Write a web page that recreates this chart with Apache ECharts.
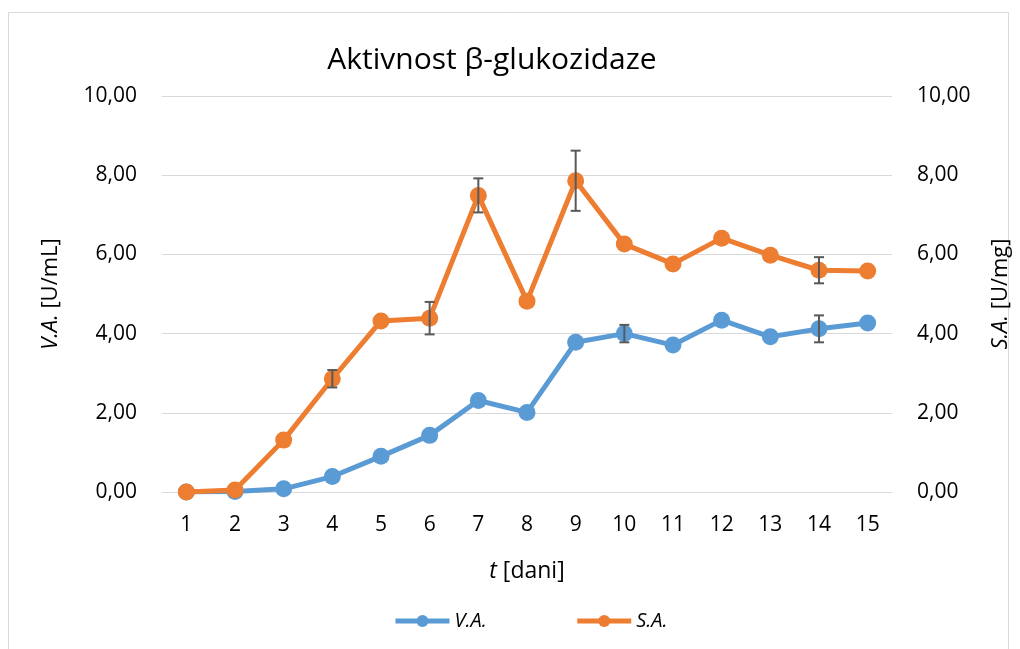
<!DOCTYPE html>
<html>
<head>
<meta charset="utf-8">
<script src="https://cdn.jsdelivr.net/npm/echarts@6/dist/echarts.min.js"></script>
<style>
  html, body { margin: 0; padding: 0; background: #fff; }
  #chart { width: 1020px; height: 649px; }
</style>
</head>
<body>
<div id="chart"></div>
<script>
const days = ['1', '2', '3', '4', '5', '6', '7', '8', '9', '10', '11', '12', '13', '14', '15']
const vaValues = [0.00, 0.01, 0.08, 0.39, 0.90, 1.43, 2.31, 2.01, 3.78, 4.00, 3.71, 4.34, 3.92, 4.12, 4.27]
const vaErrors = [0, 0, 0, 0, 0, 0, 0, 0, 0, 0.22, 0, 0, 0, 0.34, 0]
const saValues = [0.00, 0.05, 1.31, 2.86, 4.32, 4.39, 7.49, 4.82, 7.86, 6.26, 5.76, 6.41, 5.98, 5.60, 5.58]
const saErrors = [0, 0, 0, 0.22, 0, 0.41, 0.43, 0, 0.76, 0, 0, 0, 0, 0.33, 0]

const BLUE = '#5B9BD5'
const ORANGE = '#ED7D31'
const FONT = 'Open Sans'

const chart = echarts.init(document.getElementById('chart'))

const fmt = (v) => v.toFixed(2).replace('.', ',')

// error bars drawn as custom series
const errorBars = (values, errors, axisIndex) => ({
  type: 'custom',
  yAxisIndex: axisIndex,
  z: 5,
  silent: true,
  data: values.map((v, i) => [i, v - errors[i], v + errors[i], errors[i]]),
  renderItem: (params, api) => {
    if (!api.value(3)) return null
    const lo = api.coord([api.value(0), api.value(1)])
    const hi = api.coord([api.value(0), api.value(2)])
    const half = 5
    const style = { stroke: '#595959', lineWidth: 2 }
    return {
      type: 'group',
      children: [
        { type: 'line', shape: { x1: lo[0], y1: lo[1], x2: hi[0], y2: hi[1] }, style },
        { type: 'line', shape: { x1: lo[0] - half, y1: lo[1], x2: lo[0] + half, y2: lo[1] }, style },
        { type: 'line', shape: { x1: hi[0] - half, y1: hi[1], x2: hi[0] + half, y2: hi[1] }, style }
      ]
    }
  }
})

const valueAxis = (name, gap) => ({
  type: 'value',
  min: 0,
  max: 10,
  interval: 2,
  name: name,
  nameLocation: 'middle',
  nameGap: gap,
  nameRotate: 90,
  nameTextStyle: {
    fontFamily: FONT,
    fontSize: 22,
    color: '#000',
    rich: { i: { fontFamily: FONT, fontSize: 22, fontStyle: 'italic', color: '#000' } }
  },
  axisLine: { show: false },
  axisTick: { show: false },
  axisLabel: { formatter: fmt, fontFamily: FONT, fontSize: 21, color: '#000', margin: 25 },
  splitLine: { lineStyle: { color: '#d9d9d9', width: 1 } }
})

chart.setOption({
  animation: false,
  textStyle: { fontFamily: FONT },
  graphic: [{
    type: 'rect',
    shape: { x: 8.5, y: 12.5, width: 1000, height: 660 },
    style: { fill: 'none', stroke: '#d9d9d9', lineWidth: 1 },
    silent: true
  }],
  title: {
    text: 'Aktivnost β-glukozidaze',
    left: 487,
    top: 40,
    textAlign: 'center',
    textStyle: { fontFamily: FONT, fontSize: 30, fontWeight: 'normal', color: '#000' }
  },
  legend: {
    bottom: 13,
    left: 388,
    itemWidth: 54,
    itemHeight: 15,
    itemGap: 88,
    lineStyle: { width: 5 },
    textStyle: { fontFamily: FONT, fontSize: 20, fontStyle: 'italic', color: '#000' },
    data: ['V.A.', 'S.A.']
  },
  grid: { left: 162, right: 128, top: 96, bottom: 157 },
  xAxis: {
    type: 'category',
    data: days,
    boundaryGap: true,
    name: '{i|t} [dani]',
    nameLocation: 'middle',
    nameGap: 68,
    nameTextStyle: {
      fontFamily: FONT,
      fontSize: 23,
      color: '#000',
      rich: { i: { fontFamily: FONT, fontSize: 23, fontStyle: 'italic', color: '#000' } }
    },
    axisLine: { lineStyle: { color: '#d9d9d9', width: 1 } },
    axisTick: { show: false },
    axisLabel: { fontFamily: FONT, fontSize: 21, color: '#000', margin: 23 }
  },
  yAxis: [
    valueAxis('{i|V.A.} [U/mL]', 100),
    valueAxis('{i|S.A.} [U/mg]', 98)
  ],
  series: [
    {
      name: 'V.A.',
      type: 'line',
      yAxisIndex: 0,
      data: vaValues,
      symbol: 'circle',
      symbolSize: 17,
      itemStyle: { color: BLUE },
      lineStyle: { color: BLUE, width: 5 },
      z: 2
    },
    {
      name: 'S.A.',
      type: 'line',
      yAxisIndex: 1,
      data: saValues,
      symbol: 'circle',
      symbolSize: 17,
      itemStyle: { color: ORANGE },
      lineStyle: { color: ORANGE, width: 5 },
      z: 3
    },
    errorBars(vaValues, vaErrors, 0),
    errorBars(saValues, saErrors, 1)
  ]
})
</script>
</body>
</html>
